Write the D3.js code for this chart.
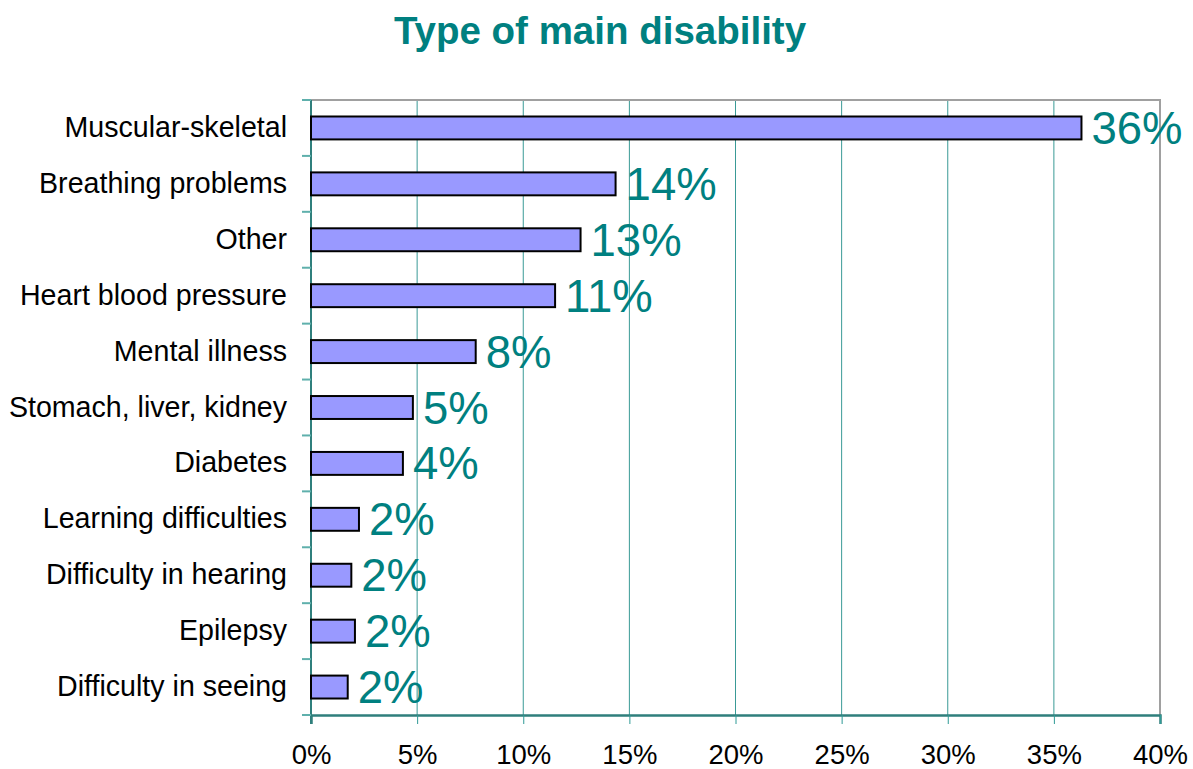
<!DOCTYPE html>
<html>
<head>
<meta charset="utf-8">
<script src="https://cdn.jsdelivr.net/npm/d3@7"></script>
<style>
  body { margin: 0; background: #fff; }
  svg { font-family: "Liberation Sans", Arial, sans-serif; }
</style>
</head>
<body>
<div id="plot"></div>
<script>
var width = 1193;
var height = 769;

var categories = ['Muscular-skeletal', 'Breathing problems', 'Other', 'Heart blood pressure',
    'Mental illness', 'Stomach, liver, kidney', 'Diabetes', 'Learning difficulties',
    'Difficulty in hearing', 'Epilepsy', 'Difficulty in seeing'];
var values = [36.3, 14.35, 12.7, 11.5, 7.76, 4.8, 4.33, 2.26, 1.9, 2.07, 1.73];
var labels = ['36%', '14%', '13%', '11%', '8%', '5%', '4%', '2%', '2%', '2%', '2%'];
var ticks = [0, 5, 10, 15, 20, 25, 30, 35, 40];

var plotLeft = 311, plotRight = 1160, plotTop = 100, plotBottom = 715;
var teal = '#008080';

var svg = d3.select('#plot')
    .append('svg')
    .attr('width', width)
    .attr('height', height);

var x_scale = d3.scaleLinear().domain([0, 40]).range([plotLeft, plotRight]);
var y_scale = d3.scaleBand().domain(categories).range([plotTop, plotBottom]).paddingInner(0.59).paddingOuter(0.295);

// title
svg.append('text')
    .attr('x', 600).attr('y', 44)
    .attr('text-anchor', 'middle')
    .style('font-size', '38.5px').style('font-weight', 'bold')
    .style('fill', teal)
    .text('Type of main disability');

// gridlines
svg.selectAll('line.grid')
    .data(ticks.slice(1, -1))
    .enter().append('line')
    .attr('class', 'grid')
    .attr('x1', d => x_scale(d)).attr('x2', d => x_scale(d))
    .attr('y1', plotTop).attr('y2', plotBottom)
    .style('stroke', '#3a9a96').style('stroke-width', 1);

// plot border top / right
svg.append('path')
    .attr('d', 'M' + plotLeft + ',' + plotTop + 'H' + plotRight + 'V' + plotBottom)
    .style('fill', 'none').style('stroke', '#a0a0a0').style('stroke-width', 2);

// x axis
var x_axis = d3.axisBottom(x_scale).tickValues(ticks).tickFormat(d => d + '%').tickSize(9).tickPadding(20);
var gx = svg.append('g').attr('transform', 'translate(0,' + plotBottom + ')').call(x_axis);
gx.select('.domain').style('stroke', '#2f7f7c').style('stroke-width', 2.5);
gx.selectAll('.tick line').style('stroke', '#2f9a96');
gx.selectAll('.tick text').style('font-size', '27.5px').style('fill', '#000').style('font-family', '"Liberation Sans", Arial, sans-serif');

// y axis line and ticks between categories
svg.append('line')
    .attr('x1', plotLeft).attr('x2', plotLeft).attr('y1', plotTop).attr('y2', plotBottom + 9)
    .style('stroke', '#2f7f7c').style('stroke-width', 2);
var step = y_scale.step();
svg.selectAll('line.ytick')
    .data(d3.range(categories.length + 1))
    .enter().append('line')
    .attr('class', 'ytick')
    .attr('x1', plotLeft - 9).attr('x2', plotLeft)
    .attr('y1', d => plotTop + d * step).attr('y2', d => plotTop + d * step)
    .style('stroke', '#5fb0ac').style('stroke-width', 2);

// category labels
svg.selectAll('text.cat')
    .data(categories)
    .enter().append('text')
    .attr('class', 'cat')
    .attr('x', 287)
    .attr('y', d => y_scale(d) + y_scale.bandwidth() / 2 + 9)
    .attr('text-anchor', 'end')
    .style('font-size', '28.6px').style('fill', '#000')
    .text(d => d);

// bars
svg.selectAll('rect.bar')
    .data(values)
    .enter().append('rect')
    .attr('class', 'bar')
    .attr('x', x_scale(0))
    .attr('y', (d, i) => y_scale(categories[i]))
    .attr('width', d => x_scale(d) - x_scale(0))
    .attr('height', y_scale.bandwidth())
    .style('fill', '#9999ff').style('stroke', '#000').style('stroke-width', 2);

// value labels
svg.selectAll('text.val')
    .data(values)
    .enter().append('text')
    .attr('class', 'val')
    .attr('x', d => x_scale(d) + 10)
    .attr('y', (d, i) => y_scale(categories[i]) + y_scale.bandwidth() / 2 + 16)
    .style('font-size', '45.5px').style('fill', teal)
    .text((d, i) => labels[i]);
</script>
</body>
</html>
